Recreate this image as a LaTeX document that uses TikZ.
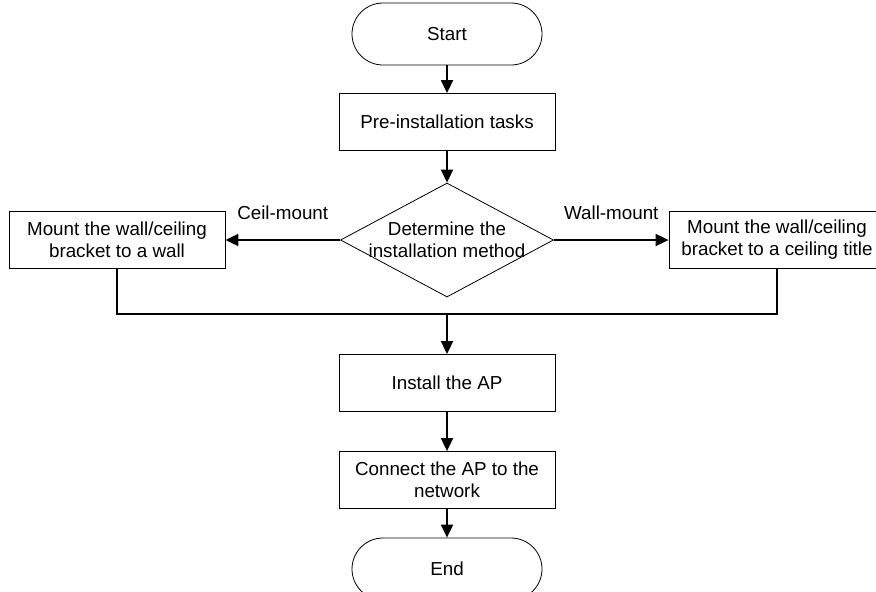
\documentclass[tikz,border=0pt]{standalone}
\usepackage{fontspec}
\setmainfont{Liberation Sans}
\usetikzlibrary{arrows.meta,shapes.geometric}
\begin{document}
\begin{tikzpicture}[x=1pt,y=-1pt,
				every node/.style={font=\fontsize{18.8}{22}\selectfont},
				box/.style={draw,line width=0.8pt,minimum width=216pt,minimum height=57pt,align=center,inner sep=0pt},
				term/.style={draw,line width=0.8pt,minimum width=190pt,minimum height=62pt,rounded corners=31pt},
				decision/.style={draw,diamond,line width=0.8pt,minimum width=213pt,minimum height=114pt,inner sep=0pt},
				flow/.style={line width=1.8pt,-{Triangle[length=13pt,width=12pt]}},
				mergeline/.style={line width=1.8pt}]
\useasboundingbox (0,0) rectangle (876,592);
\node[term] (start) at (447,34) {Start};
\node[box] (pre) at (447,122) {Pre-installation tasks};
\node[decision,label={[align=center]center:{Determine the\\installation method}}] (method) at (447,240) {};
\node[box] (wall) at (117,240) {Mount the wall/ceiling\\bracket to a wall};
\node[box] (ceiling) at (777,240) {Mount the wall/ceiling\\bracket to a ceiling title};
\coordinate (merge) at (447,314);
\node[box] (install) at (447,383) {Install the AP};
\node[box] (connect) at (447,480) {Connect the AP to the\\network};
\node[term] (end) at (447,569) {End};
\draw[flow] (start) -- (pre);
\draw[flow] (pre) -- (method);
\draw[flow] (method) -- node[above=16pt] {Ceil-mount} (wall);
\draw[flow] (method) -- node[above=16pt] {Wall-mount} (ceiling);
\draw[mergeline] (wall.south) |- (merge) -| (ceiling.south);
\draw[flow] (merge) -- (install);
\draw[flow] (install) -- (connect);
\draw[flow] (connect) -- (end);
\end{tikzpicture}
\end{document}
